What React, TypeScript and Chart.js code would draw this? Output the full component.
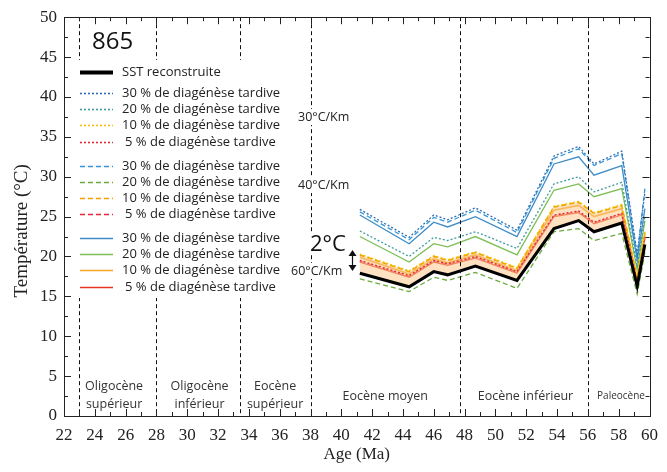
import React, { useEffect, useRef } from "react";
import { Chart, registerables } from "chart.js";
Chart.register(...registerables);

// ---- data ----
const ages = [41.2, 44.4, 46.0, 46.9, 48.7, 51.4, 53.8, 55.4, 56.4, 58.2, 59.2, 59.7];
const sst = [17.9, 16.2, 18.1, 17.7, 18.8, 17.0, 23.5, 24.5, 23.1, 24.2, 16.3, 21.5];
// 30°C/Km (dotted)
const dot30 = [25.9, 22.4, 25.2, 24.6, 26.1, 23.3, 32.6, 33.8, 31.6, 33.2, 20.3, 28.0];
const dot20 = [23.2, 20.0, 22.4, 22.0, 23.1, 21.0, 29.1, 30.0, 28.1, 29.3, 18.7, 25.0];
const dot10 = [20.3, 18.2, 20.1, 19.6, 20.6, 18.6, 26.3, 26.9, 25.5, 26.5, 17.4, 23.1];
const dot5 = [19.5, 17.6, 19.5, 19.1, 20.0, 18.1, 25.2, 25.7, 24.3, 25.4, 17.0, 22.5];
// 40°C/Km (dashed)
const dash30 = [25.6, 22.1, 24.9, 24.3, 25.8, 23.0, 32.3, 33.5, 31.4, 32.9, 20.0, 28.5];
const dash20 = [17.2, 15.6, 17.4, 17.0, 18.0, 16.0, 23.1, 23.5, 22.0, 22.9, 15.3, 20.5];
const dash10 = [20.2, 18.1, 20.0, 19.5, 20.5, 18.5, 26.2, 26.8, 25.4, 26.4, 17.3, 23.0];
const dash5 = [19.4, 17.5, 19.4, 19.0, 19.9, 18.0, 25.1, 25.6, 24.2, 25.3, 16.9, 22.4];
// 60°C/Km (solid)
const solid30 = [25.2, 21.6, 24.3, 23.7, 25.0, 22.5, 31.6, 32.5, 30.2, 31.4, 19.5, 26.0];
const solid20 = [22.5, 19.3, 21.6, 21.2, 22.5, 20.2, 28.3, 29.1, 27.5, 28.5, 18.3, 24.5];
const solid10 = [19.9, 17.8, 19.7, 19.2, 20.2, 18.2, 25.8, 26.4, 25.0, 26.0, 17.1, 22.8];
const solid5 = [19.3, 17.4, 19.3, 18.9, 19.8, 17.9, 25.0, 25.5, 24.1, 25.2, 16.8, 22.3];

const seriesLabels = [
  "30 % de diagénèse tardive",
  "20 % de diagénèse tardive",
  "10 % de diagénèse tardive",
  " 5 % de diagénèse tardive",
];
const sstLabel = "SST reconstruite";
const boundaries = [23, 28, 33.4, 38, 47.7, 56];
const periodNames = [
  ["Oligocène", "supérieur"],
  ["Oligocène", "inférieur"],
  ["Eocène", "supérieur"],
  ["Eocène moyen"],
  ["Eocène inférieur"],
  ["Paleocène"],
];
const periodCenters = [25.25, 30.8, 35.7, 42.85, 51.95, 58.15];
const siteLabel = "865";
const gradientLabels = ["30°C/Km", "40°C/Km", "60°C/Km"];
const deltaLabel = "2°C";

const colDot = ["#2f6db5", "#3f9c9c", "#efc000", "#e02b35"];
const colDash = ["#3598d8", "#6aab3e", "#f5a000", "#e8233f"];
const colSolid = ["#3d8cc8", "#7dbf55", "#f7a520", "#e53525"];

const pts = (arr: number[]) => arr.map((v, i) => ({ x: ages[i], y: v }));

export default function App() {
  const ref = useRef<HTMLCanvasElement | null>(null);
  useEffect(() => {
    document.body.style.margin = "0";
    const canvas = ref.current!;
    const mk = (label: string, data: number[], color: string, dash: number[], width = 1.3, extra: any = {}) => ({
      label,
      data: pts(data),
      borderColor: color,
      backgroundColor: color,
      borderDash: dash,
      borderWidth: width,
      pointRadius: 0,
      fill: false,
      tension: 0,
      ...extra,
    });
    const DOT = [2, 2];
    const DASH = [5, 3];
    const datasets: any[] = [
      mk(sstLabel, sst, "#000000", [], 3),
      mk(seriesLabels[0], dot30, colDot[0], DOT),
      mk(seriesLabels[1], dot20, colDot[1], DOT),
      mk(seriesLabels[2], dot10, colDot[2], DOT),
      mk(seriesLabels[3], dot5, colDot[3], DOT),
      mk(seriesLabels[0], dash30, colDash[0], DASH),
      mk(seriesLabels[1], dash20, colDash[1], DASH),
      mk(seriesLabels[2], dash10, colDash[2], DASH, 1.6, { fill: 0, backgroundColor: "rgba(252, 200, 140, 0.55)" }),
      mk(seriesLabels[3], dash5, colDash[3], DASH),
      mk(seriesLabels[0], solid30, colSolid[0], []),
      mk(seriesLabels[1], solid20, colSolid[1], []),
      mk(seriesLabels[2], solid10, colSolid[2], [], 1.6),
      mk(seriesLabels[3], solid5, colSolid[3], []),
    ];

    const decor = {
      id: "decor",
      afterDatasetsDraw(chart: any) {
        const { ctx, chartArea, scales } = chart;
        const { left, right, top, bottom } = chartArea;
        const xs = scales.x;
        const ys = scales.y;
        ctx.save();
        // boundaries
        ctx.strokeStyle = "#111";
        ctx.lineWidth = 1;
        ctx.setLineDash([4, 3]);
        boundaries.forEach((b) => {
          const px = Math.round(xs.getPixelForValue(b)) + 0.5;
          ctx.beginPath();
          ctx.moveTo(px, top);
          ctx.lineTo(px, bottom);
          ctx.stroke();
        });
        ctx.setLineDash([]);

        // period labels
        ctx.fillStyle = "#333";
        ctx.textAlign = "center";
        ctx.textBaseline = "middle";
        periodNames.forEach((lines, i) => {
          const cx = xs.getPixelForValue(periodCenters[i]);
          const small = lines[0] === "Paleocène";
          ctx.font = (small ? "10px" : "12.5px") + " 'Open Sans', sans-serif";
          if (lines.length === 2) {
            ctx.fillText(lines[0], cx, 386);
            ctx.fillText(lines[1], cx, 404);
          } else {
            ctx.fillText(lines[0], cx, 396);
          }
        });

        // legend white box
        ctx.fillStyle = "#fff";
        ctx.fillRect(70, 60, 224, 238);
        // site label
        ctx.fillStyle = "#111";
        ctx.textAlign = "left";
        ctx.font = "24px 'Open Sans', sans-serif";
        ctx.fillText(siteLabel, 92, 42);
        // legend
        const rowY = (idx: number) => {
          if (idx === 0) return 72;
          const g = Math.floor((idx - 1) / 4);
          const k = (idx - 1) % 4;
          return 93 + g * 72.5 + k * 16.2;
        };
        datasets.forEach((d, idx) => {
          const yy = Math.round(rowY(idx)) + 0.5;
          ctx.strokeStyle = d.borderColor;
          ctx.lineWidth = idx === 0 ? 4 : 1.6;
          ctx.setLineDash(d.borderDash);
          ctx.beginPath();
          ctx.moveTo(80, yy);
          ctx.lineTo(113, yy);
          ctx.stroke();
          ctx.setLineDash([]);
          ctx.fillStyle = "#222";
          ctx.font = "13px 'Open Sans', sans-serif";
          ctx.textBaseline = "middle";
          const lab = d.label.startsWith(" ") ? d.label.slice(1) : d.label;
          ctx.fillText(lab, d.label.startsWith(" ") ? 125 : 122, yy);
        });

        // gradient annotations
        const annot = (txt: string, x0: number, cy: number, font: string) => {
          ctx.font = font;
          const w = ctx.measureText(txt).width;
          ctx.fillStyle = "#fff";
          ctx.fillRect(x0 - 1, cy - 8, w + 2, 16);
          ctx.fillStyle = "#222";
          ctx.textAlign = "left";
          ctx.textBaseline = "middle";
          ctx.fillText(txt, x0, cy);
        };
        annot(gradientLabels[0], 298, 117, "12.5px 'Open Sans', sans-serif");
        annot(gradientLabels[1], 298, 185, "12.5px 'Open Sans', sans-serif");
        ctx.font = "22px 'Open Sans', sans-serif";
        const w2 = ctx.measureText(deltaLabel).width;
        ctx.fillStyle = "#fff";
        ctx.fillRect(309, 233, w2 + 3, 22);
        ctx.fillStyle = "#111";
        ctx.textBaseline = "middle";
        ctx.fillText(deltaLabel, 310, 245);
        annot(gradientLabels[2], 291, 271, "12.5px 'Open Sans', sans-serif");
        // arrow
        ctx.strokeStyle = "#111";
        ctx.fillStyle = "#111";
        ctx.lineWidth = 1.2;
        ctx.beginPath();
        ctx.moveTo(352.5, 254);
        ctx.lineTo(352.5, 267);
        ctx.stroke();
        ctx.beginPath();
        ctx.moveTo(348.5, 256);
        ctx.lineTo(356.5, 256);
        ctx.lineTo(352.5, 250);
        ctx.closePath();
        ctx.fill();
        ctx.beginPath();
        ctx.moveTo(348.5, 265);
        ctx.lineTo(356.5, 265);
        ctx.lineTo(352.5, 271);
        ctx.closePath();
        ctx.fill();

        // frame
        ctx.strokeStyle = "#222";
        ctx.lineWidth = 1;
        ctx.strokeRect(Math.round(left) + 0.5, Math.round(top) + 0.5, Math.round(right - left), Math.round(bottom - top));
        // ticks
        for (let v = 22; v <= 60; v += 1) {
          const px = Math.round(xs.getPixelForValue(v)) + 0.5;
          const len = v % 2 === 0 ? 7 : 4;
          ctx.beginPath();
          ctx.moveTo(px, bottom);
          ctx.lineTo(px, bottom - len);
          ctx.moveTo(px, top);
          ctx.lineTo(px, top + len);
          ctx.stroke();
        }
        for (let v = 0; v <= 50; v += 2.5) {
          const py = Math.round(ys.getPixelForValue(v)) + 0.5;
          const len = v % 5 === 0 ? 7 : 4;
          ctx.beginPath();
          ctx.moveTo(left, py);
          ctx.lineTo(left + len, py);
          ctx.moveTo(right, py);
          ctx.lineTo(right - len, py);
          ctx.stroke();
        }
        ctx.restore();
      },
    };

    const chart = new Chart(canvas, {
      type: "line",
      data: { datasets },
      options: {
        animation: false,
        responsive: false,
        layout: { padding: { top: 10, right: 16, left: 0, bottom: 0 } },
        plugins: { legend: { display: false }, tooltip: { enabled: false } },
        scales: {
          x: {
            type: "linear",
            min: 22,
            max: 60,
            ticks: {
              stepSize: 2,
              autoSkip: false,
              maxRotation: 0,
              padding: 9,
              color: "#222",
              font: { family: "'Liberation Serif', serif", size: 17 },
            },
            grid: { display: false, drawTicks: false },
            border: { display: false },
            title: {
              display: true,
              text: "Age (Ma)",
              color: "#222",
              font: { family: "'Liberation Serif', serif", size: 17 },
              padding: { top: 0, bottom: 7 },
            },
            afterFit: (s: any) => {
              s.height = 56;
            },
          },
          y: {
            type: "linear",
            min: 0,
            max: 50,
            ticks: {
              stepSize: 5,
              padding: 7,
              color: "#222",
              font: { family: "'Liberation Serif', serif", size: 17 },
            },
            grid: { display: false, drawTicks: false },
            border: { display: false },
            title: {
              display: true,
              text: "Température (°C)      ",
              color: "#222",
              font: { family: "'Liberation Serif', serif", size: 19 },
              padding: { top: 11, bottom: 0 },
            },
            afterFit: (s: any) => {
              s.width = 64;
            },
          },
        },
      },
      plugins: [decor],
    } as any);
    return () => chart.destroy();
  }, []);
  return <canvas ref={ref} width={667} height={472} style={{ display: "block" }} />;
}
